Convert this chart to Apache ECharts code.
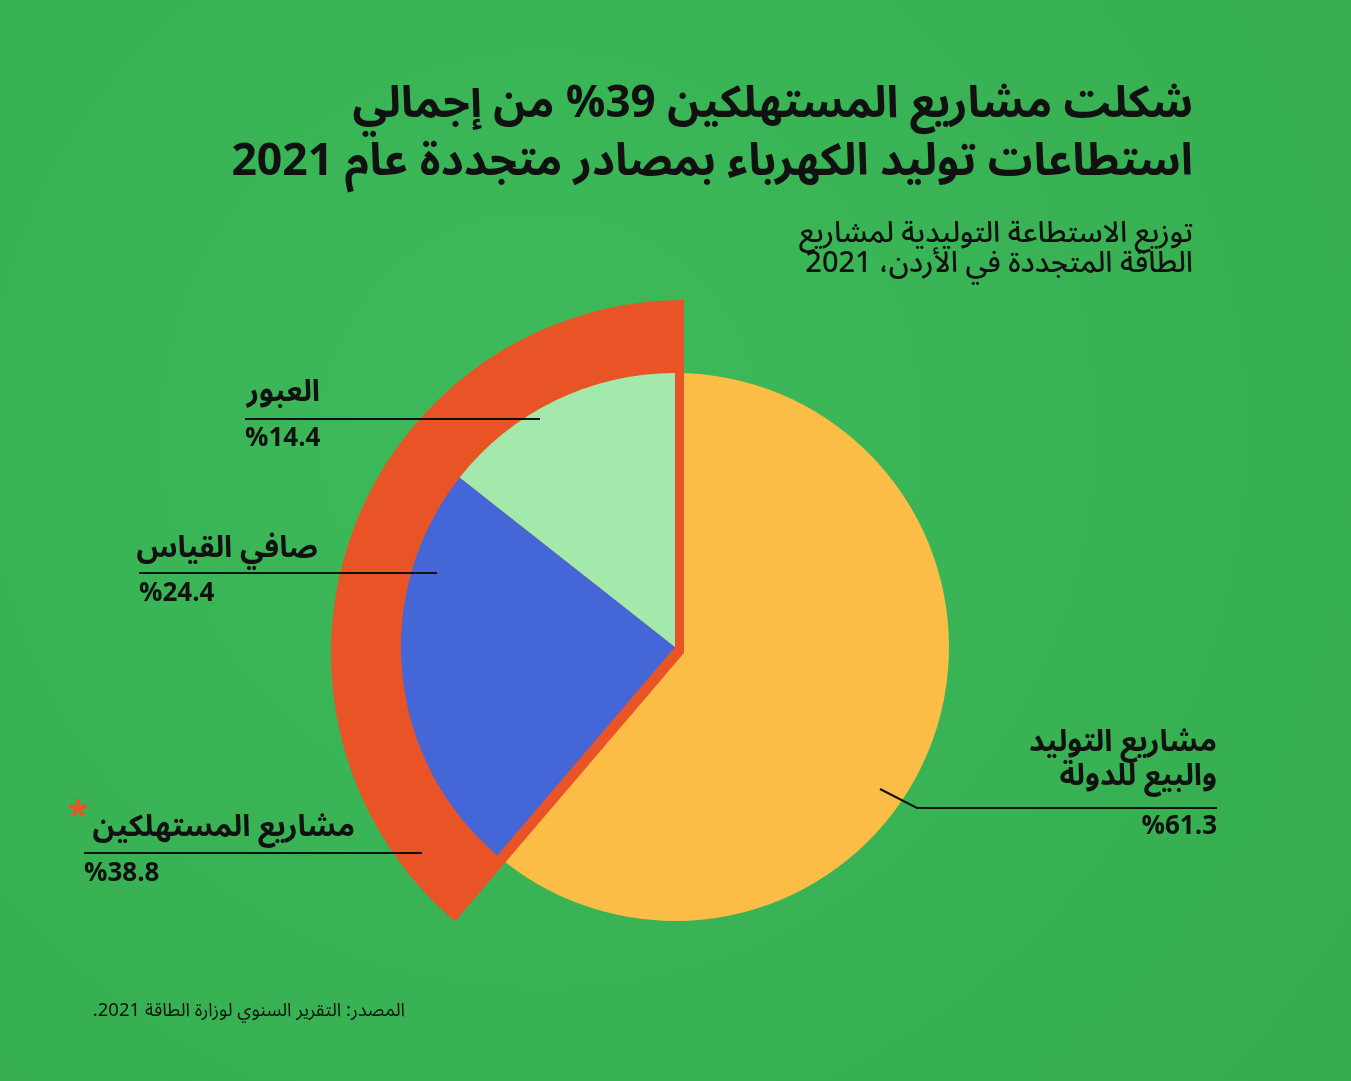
<!DOCTYPE html>
<html dir="rtl">
<head>
<meta charset="utf-8">
<script src="https://cdn.jsdelivr.net/npm/echarts@6/dist/echarts.min.js"></script>
<style>
html,body{margin:0;padding:0;background:#3cb85a;}
#c{width:1351px;height:1081px;}
</style>
</head>
<body>
<div id="c"></div>
<script>
// Data
var categories = ['مشاريع التوليد والبيع للدولة', 'صافي القياس', 'العبور'];
var values = [61.3, 24.4, 14.4];
var ringCategories = ['مشاريع التوليد والبيع للدولة', 'مشاريع المستهلكين'];
var ringValues = [61.3, 38.8];
var labelPercents = ['%61.3', '%24.4', '%14.4', '%38.8'];

var colors = ['#fbbd46', '#4466d6', '#a3e9ab'];
var ORANGE = '#e95426';
var FONT = '"Noto Sans Arabic","Noto Sans","DejaVu Sans",sans-serif';
var NONE = 'rgba(0,0,0,0)';

var chart = echarts.init(document.getElementById('c'), null, {renderer: 'canvas'});

function baseData(showIdx) {
  return categories.map(function (n, i) {
    return {name: n, value: values[i],
      itemStyle: {color: showIdx.indexOf(i) >= 0 ? colors[i] : NONE}};
  });
}

var txt = function (x, y, text, size, align, weight, color) {
  return {type: 'text', x: x, y: y, z: 100, silent: true,
    style: {text: text, fontSize: size, fontFamily: FONT, fontWeight: weight || 'bold',
      fill: color || '#111', align: align, verticalAlign: 'middle'}};
};
var line = function (x1, y1, x2, y2) {
  return {type: 'line', z: 100, silent: true, shape: {x1: x1, y1: y1, x2: x2, y2: y2},
    style: {stroke: '#111', lineWidth: 2}};
};
var poly = function (pts) {
  return {type: 'polyline', z: 100, silent: true, shape: {points: pts},
    style: {stroke: '#111', lineWidth: 2, fill: null}};
};

chart.setOption({
  backgroundColor: {
    type: 'radial', x: 0.4, y: 0.4, r: 0.9,
    colorStops: [{offset: 0, color: '#3dba5b'}, {offset: 1, color: '#35ad4f'}]
  },
  animation: false,
  series: [
    {
      type: 'pie', silent: true, center: [675, 647], radius: [0, 274],
      startAngle: 90, clockwise: true, label: {show: false}, labelLine: {show: false},
      z: 1, data: baseData([0])
    },
    {
      type: 'pie', silent: true, center: [684, 653], radius: [0, 353],
      startAngle: 90, clockwise: true, label: {show: false}, labelLine: {show: false},
      z: 2,
      data: ringCategories.map(function (n, i) {
        return {name: n, value: ringValues[i], itemStyle: {color: i === 1 ? ORANGE : NONE}};
      })
    },
    {
      type: 'pie', silent: true, center: [675, 647], radius: [0, 274],
      startAngle: 90, clockwise: true, label: {show: false}, labelLine: {show: false},
      z: 3, data: baseData([1, 2])
    }
  ],
  graphic: [
    // Title
    txt(1193, 110, 'شكلت مشاريع المستهلكين 39% من إجمالي', 44, 'right', 'bold'),
    txt(1193, 168, 'استطاعات توليد الكهرباء بمصادر متجددة عام 2021', 44.5, 'right', 'bold'),
    // Subtitle
    txt(1193, 238, 'توزيع الاستطاعة التوليدية لمشاريع', 29, 'right', '500'),
    txt(1193, 268, 'الطاقة المتجددة في الأردن، 2021', 29, 'right', '500'),
    // Label: العبور
    txt(320, 396, categories[2], 30, 'right'),
    line(245, 419, 540, 419),
    txt(245, 442, labelPercents[2], 26, 'left'),
    // Label: صافي القياس
    txt(318, 552, categories[1], 30, 'right'),
    line(139, 573, 437, 573),
    txt(139, 597, labelPercents[1], 26, 'left'),
    // Label: مشاريع المستهلكين
    txt(355, 831, ringCategories[1], 30, 'right'),
    txt(78, 822, '*', 38, 'center', 'bold', ORANGE),
    line(84, 853, 422, 853),
    txt(84, 877, labelPercents[3], 26, 'left'),
    // Label: مشاريع التوليد والبيع للدولة
    txt(1217, 746, 'مشاريع التوليد', 30, 'right'),
    txt(1217, 780, 'والبيع للدولة', 30, 'right'),
    poly([[880, 789], [917, 808], [1217, 808]]),
    txt(1217, 830, labelPercents[0], 26, 'right'),
    // Source
    txt(405, 1013, 'المصدر: التقرير السنوي لوزارة الطاقة 2021.', 18.5, 'right', 'normal')
  ]
});
</script>
</body>
</html>
